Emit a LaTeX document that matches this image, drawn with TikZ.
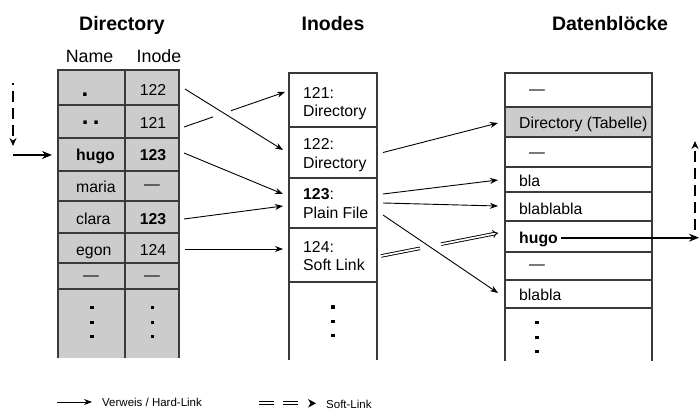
\documentclass[tikz,border=0pt]{standalone}
\usepackage{fontspec}
\setmainfont{Liberation Sans}
\usetikzlibrary{arrows.meta,calc}
\definecolor{cellgray}{HTML}{CCCCCC}
\definecolor{rule}{HTML}{3A3A3A}

\begin{document}
\begin{tikzpicture}[x=1pt, y=-1pt,
  box/.style={draw=rule, line width=1.2pt, inner sep=0pt, outer sep=0pt, anchor=north west},
  gbox/.style={box, fill=cellgray},
  head/.style={font=\fontsize{19.5}{23}\selectfont\bfseries, anchor=base, inner sep=0pt},
  colhead/.style={font=\fontsize{17.8}{21}\selectfont, anchor=base, inner sep=0pt},
  lbl/.style={font=\fontsize{15.8}{18.5}\selectfont, anchor=base west, inner sep=0pt},
  blbl/.style={font=\fontsize{15.8}{18.5}\selectfont\bfseries, anchor=base west, inner sep=0pt},
  clbl/.style={lbl, anchor=base},
  cblbl/.style={blbl, anchor=base},
  dotmark/.style={font=\fontsize{24}{24}\selectfont\bfseries, anchor=base, inner sep=0pt},
  small/.style={font=\fontsize{11.5}{13}\selectfont, anchor=base west, inner sep=0pt},
  link/.style={line width=0.9pt, -{Stealth[length=8pt,width=6pt]}},
  soft/.style={line width=0.9pt, double=white, double distance=1.7pt, -{Implies}},
  boldlink/.style={line width=2.2pt, -{Stealth[length=10pt,width=8pt]}},
  dashlink/.style={line width=2.6pt, dash pattern=on 11pt off 6pt, dash phase=9pt, -{Stealth[length=8pt,width=7pt]}},
]
\useasboundingbox (0,0) rectangle (699,411);

% vertical ellipsis: three small squares
\newcommand\vdotsat[2]{%
  \foreach \dy in {-14.5,0,14}{\fill (#1-1.7,#2+\dy-1.7) rectangle (#1+1.7,#2+\dy+1.7);}}

% column headings
\node[head] (hdir) at (122,31) {Directory};
\node[head] (hino) at (333,31) {Inodes};
\node[head] (hblk) at (610,31) {Datenblöcke};
\node[colhead] (hname) at (89.5,63) {Name};
\node[colhead] (hinode) at (159,63) {Inode};

% ---------- directory table ----------
\fill[cellgray] (58,289) rectangle (179,358);
\foreach \r/\y/\h in {1/70/35,2/105/33,3/138/33,4/171/30,5/201/32,6/233/30,7/263/26}{
  \node[gbox, minimum width=67pt, minimum height=\h pt] (dn\r) at (58,\y) {};
  \node[gbox, minimum width=54pt, minimum height=\h pt] (di\r) at (125,\y) {};
}
\draw[rule, line width=1.2pt] (58,289) -- (58,358) (125,289) -- (125,358) (179,289) -- (179,358);

\node[dotmark] (tn1) at (85,96.7) {.};
\node[dotmark] (tn2) at (90.8,124.4) {.\kern4.3pt.};
\node[blbl] (tn3) at (76,160.5) {hugo};
\node[lbl] (tn4) at (76,192.3) {maria};
\node[lbl] (tn5) at (76,224.3) {clara};
\node[lbl] (tn6) at (76,255.7) {egon};
\node[clbl] (tn7) at (91,280.3) {—};
\node[clbl] (ti1) at (153,95.7) {122};
\node[clbl] (ti2) at (153,128.3) {121};
\node[cblbl] (ti3) at (153,160.7) {123};
\node[clbl] (ti4) at (152,189.3) {—};
\node[cblbl] (ti5) at (153,224.3) {123};
\node[clbl] (ti6) at (153,255.7) {124};
\node[clbl] (ti7) at (152,280.3) {—};
\vdotsat{92}{322.3}
\vdotsat{152.5}{322.3}

% ---------- inode table ----------
\foreach \r/\y/\h in {1/73/54,2/127/51,3/178/50,4/228/54}{
  \node[box, minimum width=88pt, minimum height=\h pt] (in\r) at (289,\y) {};
}
\draw[rule, line width=1.2pt] (289,282) -- (289,360) (377,282) -- (377,360);
\node[lbl] (it1a) at (303,98.3) {121:};
\node[lbl] (it1b) at (303,117) {Directory};
\node[lbl] (it2a) at (303,150) {122:};
\node[lbl] (it2b) at (303,168.5) {Directory};
\node[lbl] (it3a) at (303,200) {\textbf{123}:};
\node[lbl] (it3b) at (303,219) {Plain File};
\node[lbl] (it4a) at (303,252.3) {124:};
\node[lbl] (it4b) at (303,271) {Soft Link};
\vdotsat{333}{321.7}

% ---------- data block table ----------
\foreach \r/\y/\h/\f in {1/73/34/white,2/107/30/cellgray,3/137/30/white,4/167/25/white,5/192/29/white,6/221/31/white,7/252/28/white,8/280/28/white}{
  \node[box, fill=\f, minimum width=147pt, minimum height=\h pt] (bk\r) at (505,\y) {};
}
\draw[rule, line width=1.2pt] (505,308) -- (505,361) (652,308) -- (652,361);
\node[clbl] (bt1) at (537,95) {—};
\node[lbl] (bt2) at (519,128.3) {Directory (Tabelle)};
\node[clbl] (bt3) at (537,157.6) {—};
\node[lbl] (bt4) at (519,186.7) {bla};
\node[lbl] (bt5) at (519,215) {blablabla};
\node[blbl] (bt6) at (519,243.3) {hugo};
\node[clbl] (bt7) at (537,269.3) {—};
\node[lbl] (bt8) at (519,301) {blabla};
\vdotsat{537}{337.3}

% ---------- directory entries -> inodes ----------
\draw[link] ($(di2.east)+(5,5.5)$) coordinate (s121)
  -- ($(s121)!0.287!($(in1.west)+(-4,-8)$)$)
  ($(s121)!0.465!($(in1.west)+(-4,-8)$)$) -- ($(in1.west)+(-4,-8)$);
\draw[link] ($(di1.east)+(6,1.5)$) -- ($(in2.west)+(-6,-2.5)$);
\draw[link] ($(di3.east)+(5,-1.5)$) -- ($(in3.west)+(-6,-9)$);
\draw[link] ($(di5.east)+(5,2)$) -- ($(in3.west)+(-6,3)$);
\draw[link] ($(di6.east)+(6,1)$) -- ($(in4.west)+(-6,-6)$);

% ---------- inodes -> data blocks ----------
\draw[link] ($(in2.east)+(6,0)$) -- ($(bk2.west)+(-7,1)$);
\draw[link] ($(in3.east)+(6,-9)$) -- ($(bk4.west)+(-7,0.5)$);
\draw[link] ($(in3.east)+(6,0)$) -- ($(bk5.west)+(-7,-0.5)$);
\draw[link] ($(in3.east)+(6,12)$) -- ($(bk8.west)+(-7,-1)$);
\draw[soft] ($(in4.east)+(4,1)$) coordinate (s124)
  -- ($(s124)!0.333!($(bk6.west)+(-7,-3.5)$)$)
  ($(s124)!0.513!($(bk6.west)+(-7,-3.5)$)$) -- ($(bk6.west)+(-7,-3.5)$);

% ---------- path resolution arrows ----------
\coordinate (ltop) at (13,83);
\coordinate (lbot) at (13,146);
\coordinate (lin) at (13,155);
\draw[dashlink] (ltop) -- (lbot);
\draw[boldlink] (lin) -- ($(dn3.west)+(-6,0.5)$);
\coordinate (rout) at (699,237.7);
\coordinate (rbase) at (695,237.7);
\coordinate (rtop) at (695,141);
\draw[boldlink] ($(bt6.base east)+(3,-5.6)$) -- (rout);
\draw[dashlink] (rbase) -- (rtop);

% ---------- legend ----------
\coordinate (lga) at (57,402);
\coordinate (lgb) at (92,402);
\draw[link] (lga) -- (lgb);
\node[small] (lgt1) at (102,406.5) {Verweis / Hard-Link};
\coordinate (lgc) at (259,403.3);
\coordinate (lgd) at (298,403.3);
\draw[line width=1.1pt, double=white, double distance=2pt, dash pattern=on 15pt off 9pt] (lgc) -- (lgd);
\fill (308,399) -- (316,403.3) -- (308,407.6) -- (310.5,403.3) -- cycle;
\node[small] (lgt2) at (326,408.3) {Soft-Link};
\end{tikzpicture}
\end{document}
